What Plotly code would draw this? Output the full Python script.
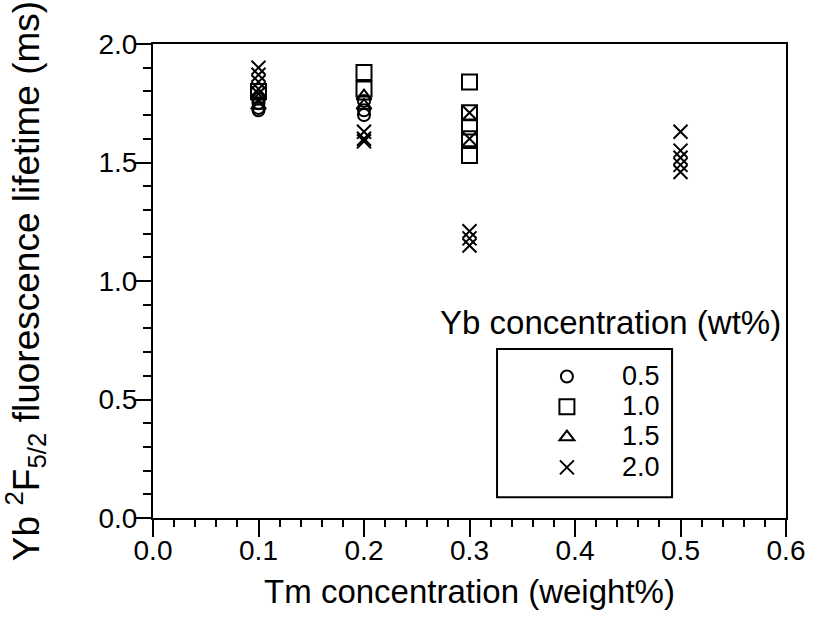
import plotly.graph_objects as go

# Tm concentration (weight%) -> lifetimes (ms) by Yb concentration (wt%)
yb05_x = [0.1, 0.1, 0.1, 0.1, 0.2, 0.2, 0.2]
yb05_y = [1.72, 1.73, 1.75, 1.77, 1.76, 1.72, 1.70]

yb10_x = [0.1, 0.2, 0.2, 0.3, 0.3, 0.3, 0.3, 0.3]
yb10_y = [1.80, 1.88, 1.81, 1.84, 1.71, 1.65, 1.60, 1.53]

yb15_x = [0.1, 0.1, 0.2, 0.2]
yb15_y = [1.78, 1.74, 1.74, 1.78]

yb20_x = [0.1, 0.1, 0.1, 0.1, 0.1, 0.2, 0.2, 0.2, 0.3, 0.3, 0.3, 0.3, 0.3,
          0.5, 0.5, 0.5, 0.5, 0.5]
yb20_y = [1.90, 1.87, 1.84, 1.81, 1.79, 1.63, 1.60, 1.59, 1.71, 1.60, 1.21, 1.18, 1.15,
          1.63, 1.55, 1.52, 1.49, 1.46]

series = [
    ("0.5", yb05_x, yb05_y, "circle-open", 12),
    ("1.0", yb10_x, yb10_y, "square-open", 15),
    ("1.5", yb15_x, yb15_y, "triangle-up-open", 13),
    ("2.0", yb20_x, yb20_y, "x-thin-open", 14),
]

FONT = "Liberation Sans, Arial, Helvetica, sans-serif"

fig = go.Figure()
for name, xs, ys, sym, sz in series:
    fig.add_trace(go.Scatter(
        x=xs, y=ys, mode="markers",
        name=f"<span style='font-size:27px'>{name}</span>",
        marker=dict(symbol=sym, size=sz, color="black",
                    line=dict(color="black", width=2)),
    ))

fig.update_layout(
    width=817, height=619,
    margin=dict(l=153, r=20, t=44, b=101),
    paper_bgcolor="white", plot_bgcolor="white",
    font=dict(family=FONT, size=28, color="black"),
    showlegend=True,
    legend=dict(x=0.567, y=0.341, xanchor="left", yanchor="top",
                bgcolor="rgba(0,0,0,0)", borderwidth=0,
                font=dict(size=21), itemwidth=100, tracegroupgap=0),
    shapes=[dict(type="rect", xref="paper", yref="paper",
                 x0=0.5435, x1=0.82, y0=0.044, y1=0.3565,
                 line=dict(color="black", width=2))],
    annotations=[dict(text="Yb concentration (wt%)", xref="paper", yref="paper",
                      x=0.995, y=0.4135, xanchor="right", yanchor="middle",
                      showarrow=False, font=dict(size=33, family=FONT))],
)

fig.update_xaxes(
    range=[0, 0.6], dtick=0.1, tick0=0, tickformat=".1f",
    ticks="outside", ticklen=17, tickwidth=2, tickcolor="black",
    minor=dict(dtick=0.02, ticks="outside", ticklen=7, tickwidth=1.5, tickcolor="black"),
    showline=True, linecolor="black", linewidth=2, mirror=True,
    showgrid=False, zeroline=False, tickfont=dict(size=28), ticklabelstandoff=-11,
    title=dict(text="Tm concentration (weight%)", font=dict(size=33), standoff=15),
)
fig.update_yaxes(
    range=[0, 2.0], dtick=0.5, tick0=0, tickformat=".1f",
    ticks="outside", ticklen=17, tickwidth=2, tickcolor="black",
    minor=dict(dtick=0.1, ticks="outside", ticklen=8, tickwidth=1.5, tickcolor="black"),
    showline=True, linecolor="black", linewidth=2, mirror=True,
    showgrid=False, zeroline=False, tickfont=dict(size=28), ticklabelstandoff=-9,
    title=dict(text="Yb <sup>2</sup>F<sub>5/2</sub> fluorescence lifetime (ms)",
               font=dict(size=37), standoff=48),
)

fig.write_html("out.html")
